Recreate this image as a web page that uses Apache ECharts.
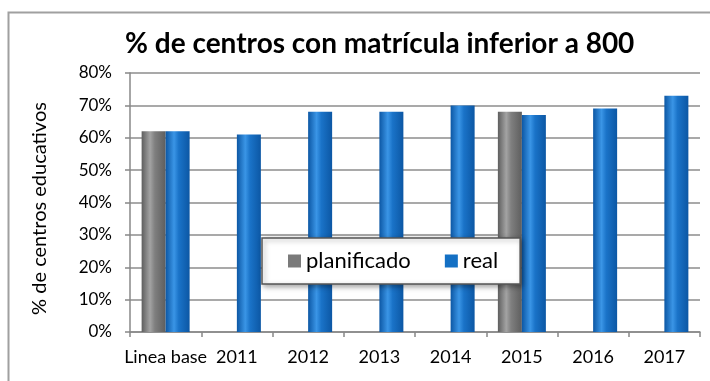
<!DOCTYPE html>
<html>
<head>
<meta charset="utf-8">
<script src="https://cdn.jsdelivr.net/npm/echarts@6/dist/echarts.min.js"></script>
<style>
  html, body { margin: 0; padding: 0; background: #fff; }
  #chart { width: 710px; height: 381px; }
</style>
</head>
<body>
<div id="chart"></div>
<script>
// Share of schools with fewer than 800 students enrolled
const categories = ['Linea base', '2011', '2012', '2013', '2014', '2015', '2016', '2017'];
const planificado = [62, null, null, null, null, 68, null, null];
const real = [62, 61, 68, 68, 70, 67, 69, 73];
const yTicks = [0, 10, 20, 30, 40, 50, 60, 70, 80];

const font = 'Lato, "Open Sans", sans-serif';

function cylinder(edge, mid, light) {
  return new echarts.graphic.LinearGradient(0, 0, 1, 0, [
    { offset: 0, color: edge },
    { offset: 0.35, color: light },
    { offset: 0.55, color: mid },
    { offset: 1, color: edge }
  ]);
}

const chart = echarts.init(document.getElementById('chart'), null, { renderer: 'canvas' });

chart.setOption({
  animation: false,
  backgroundColor: '#fff',
  title: {
    text: '% de centros con matrícula inferior a 800',
    left: 120,
    top: 25,
    textStyle: { fontFamily: font, fontWeight: 'bold', fontSize: 28, color: '#000' }
  },
  graphic: [{
    type: 'rect',
    shape: { x: 8.5, y: 12.5, width: 720, height: 400 },
    style: { fill: 'none', stroke: '#a0a0a0', lineWidth: 2 },
    silent: true,
    z: -1
  }],
  legend: {
    data: [
      { name: 'planificado', itemStyle: { color: '#7a7a7a' } },
      { name: 'real', itemStyle: { color: '#1470c4' } }
    ],
    left: 262,
    top: 238,
    padding: [12, 22, 12, 26],
    itemGap: 34,
    itemWidth: 13,
    itemHeight: 13,
    icon: 'rect',
    backgroundColor: '#fff',
    borderColor: '#555',
    borderWidth: 1.5,
    shadowColor: 'rgba(0,0,0,0.35)',
    shadowBlur: 5,
    shadowOffsetX: 2,
    shadowOffsetY: 2,
    textStyle: { fontFamily: font, fontSize: 22, color: '#000' }
  },
  grid: { left: 130, top: 73, right: 10, bottom: 49, containLabel: false },
  xAxis: {
    type: 'category',
    data: categories,
    axisLine: { show: true, lineStyle: { color: '#888', width: 1.5 } },
    axisTick: { show: true, length: 5, lineStyle: { color: '#888', width: 1.5 } },
    axisLabel: { interval: 0, fontFamily: font, fontSize: 18, color: '#000', margin: 16 }
  },
  yAxis: {
    type: 'value',
    min: yTicks[0],
    max: yTicks[yTicks.length - 1],
    interval: 10,
    name: '% de centros educativos',
    nameLocation: 'middle',
    nameGap: 80,
    nameTextStyle: { fontFamily: font, fontSize: 20, color: '#000', padding: [0, 12, 0, 0] },
    axisLine: { show: true, lineStyle: { color: '#888', width: 1.5 } },
    axisTick: { show: true, length: 5, lineStyle: { color: '#888', width: 1.5 } },
    axisLabel: { fontFamily: font, fontSize: 17, color: '#000', margin: 18, formatter: '{value}%' },
    splitLine: { show: true, lineStyle: { color: '#8c8c8c', width: 1.5 } }
  },
  series: [
    {
      name: 'planificado',
      type: 'bar',
      data: planificado,
      barWidth: 24,
      barGap: '0%',
      itemStyle: { color: cylinder('#5e5e5e', '#7f7f7f', '#a3a3a3') }
    },
    {
      name: 'real',
      type: 'bar',
      data: real,
      barWidth: 24,
      barGap: '0%',
      itemStyle: { color: cylinder('#0c57a4', '#1a73c8', '#3a95e6') }
    }
  ]
});
</script>
</body>
</html>
